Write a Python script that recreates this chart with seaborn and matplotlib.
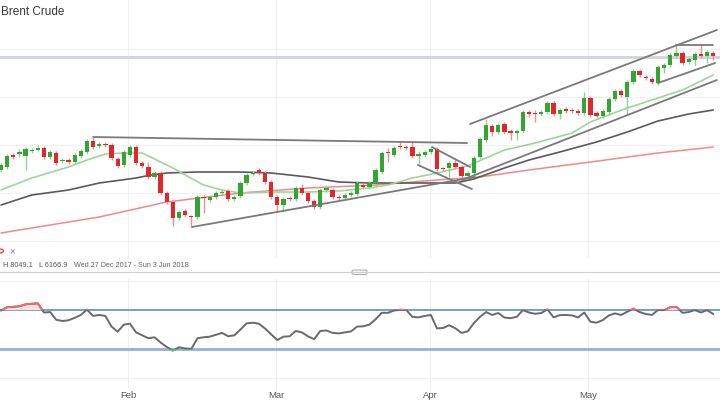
import numpy as np
import pandas as pd
import matplotlib
matplotlib.use("Agg")
import matplotlib.pyplot as plt
import seaborn as sns
from matplotlib.patches import Rectangle, FancyBboxPatch

sns.set_theme(style="white")
plt.rcParams['font.family'] = ['Liberation Sans', 'DejaVu Sans']

# ---------------- data ----------------
opens = [68.0, 68.3, 69.5, 69.6, 69.4, 69.9, 70.0, 70.2, 69.3, 69.7,
         68.9, 69.0, 68.8, 69.4, 69.8, 70.9, 70.4, 70.6, 70.5, 69.1,
         68.5, 69.5, 70.3, 68.7, 68.3, 67.3, 67.7, 65.7, 64.8, 63.2,
         63.9, 63.4, 63.3, 65.3, 65.0, 65.3, 65.7, 65.9, 65.1, 65.4,
         66.7, 67.6, 68.0, 67.7, 66.8, 65.3, 64.5, 65.2, 65.1, 66.2,
         65.7, 64.9, 64.3, 66.0, 66.0, 65.3, 65.2, 65.5, 65.6, 66.5,
         66.3, 66.6, 67.8, 69.8, 69.5, 70.4, 70.3, 70.3, 69.45, 69.5,
         69.8, 70.1, 68.2, 68.2, 68.7, 68.3, 67.4, 67.7, 69.3, 71.0,
         72.4, 71.8, 72.6, 71.9, 71.7, 71.9, 73.8, 73.7, 73.6, 73.8,
         74.7, 73.6, 74.1, 74.0, 73.9, 73.7, 75.2, 73.7, 73.4, 73.8,
         75.1, 75.9, 75.3, 76.8, 77.9, 77.3, 77.1, 76.7, 78.2, 78.5,
         79.4, 79.7, 78.8, 79.0, 79.6, 79.4, 79.7]
highs = [68.7, 69.6, 69.7, 70.1, 70.3, 70.2, 70.5, 70.4, 70.0, 69.9,
         69.2, 69.2, 69.7, 70.1, 71.1, 71.3, 70.8, 70.8, 70.7, 69.3,
         70.0, 70.5, 70.5, 68.9, 68.8, 67.9, 67.9, 65.9, 65.0, 64.0,
         64.1, 63.5, 65.5, 65.5, 65.5, 65.9, 66.0, 66.1, 65.5, 66.9,
         67.7, 67.9, 68.2, 67.9, 67.0, 65.5, 65.3, 65.4, 66.4, 66.6,
         65.9, 65.1, 66.2, 66.4, 66.2, 65.5, 65.7, 65.9, 66.9, 66.7,
         66.9, 68.2, 69.9, 70.2, 70.4, 70.8, 70.5, 70.8, 69.9, 70.0,
         70.3, 70.3, 68.3, 68.9, 69.2, 68.5, 67.9, 69.4, 71.3, 73.1,
         72.6, 72.7, 72.8, 72.1, 72.1, 74.0, 74.0, 74.0, 74.0, 74.9,
         74.9, 74.2, 74.3, 74.2, 74.1, 75.8, 75.4, 73.9, 74.1, 75.3,
         76.1, 76.1, 77.0, 78.1, 78.1, 77.5, 77.3, 78.5, 78.7, 79.7,
         80.5, 79.9, 79.3, 79.8, 80.5, 80.0, 79.9]
lows = [67.8, 68.1, 69.1, 69.3, 68.0, 69.7, 69.9, 69.1, 69.1, 68.5,
        68.7, 68.6, 68.6, 69.2, 69.6, 70.1, 70.2, 70.3, 69.0, 68.2,
        68.3, 69.3, 68.5, 68.2, 67.1, 67.1, 65.5, 64.6, 62.4, 63.0,
        63.3, 62.4, 63.1, 63.7, 64.8, 65.1, 65.5, 64.9, 64.9, 65.2,
        66.5, 67.4, 67.5, 66.6, 65.1, 63.8, 63.8, 64.9, 64.9, 65.5,
        64.7, 64.1, 64.1, 65.8, 65.1, 65.0, 65.0, 65.3, 65.4, 66.1,
        66.1, 66.4, 67.6, 68.8, 69.3, 70.1, 70.0, 69.2, 68.6, 69.3,
        69.6, 67.9, 67.9, 67.3, 68.1, 67.2, 67.2, 67.5, 69.1, 70.8,
        71.4, 71.6, 71.6, 71.0, 71.0, 71.7, 73.3, 72.8, 73.4, 73.6,
        73.4, 73.1, 73.7, 73.7, 73.5, 73.5, 73.3, 73.2, 73.2, 73.6,
        74.9, 75.3, 73.5, 76.6, 77.3, 77.0, 76.6, 76.5, 77.7, 78.3,
        79.2, 78.5, 78.6, 78.5, 79.2, 78.7, 79.0]
closes = [68.5, 69.4, 69.3, 69.8, 70.1, 70.0, 70.2, 69.3, 69.8, 68.7,
          69.0, 68.8, 69.5, 69.9, 70.9, 70.3, 70.6, 70.5, 69.2, 68.4,
          69.8, 70.3, 68.7, 68.4, 67.3, 67.7, 65.7, 64.8, 63.2, 63.8,
          63.5, 63.3, 65.3, 65.2, 65.3, 65.7, 65.8, 65.1, 65.3, 66.7,
          67.5, 67.7, 67.7, 66.8, 65.3, 64.5, 65.1, 65.1, 66.2, 65.7,
          64.9, 64.3, 66.0, 66.2, 65.3, 65.2, 65.5, 65.7, 66.7, 66.3,
          66.7, 68.0, 69.7, 69.7, 70.2, 70.3, 70.2, 69.4, 69.5, 69.8,
          70.1, 68.1, 68.1, 68.7, 68.3, 67.4, 67.7, 69.2, 71.1, 72.5,
          71.8, 72.5, 71.8, 71.7, 71.9, 73.8, 73.6, 73.6, 73.8, 74.7,
          73.6, 74.0, 73.9, 73.9, 73.7, 75.2, 73.5, 73.4, 73.9, 75.1,
          75.9, 75.5, 76.8, 77.9, 77.5, 77.2, 76.8, 78.3, 78.5, 79.5,
          79.7, 78.7, 79.1, 79.6, 79.4, 79.8, 79.4]

rsi = [69.5, 73.0, 73.4, 74.0, 76.0, 76.5, 77.0, 67.5, 68.0, 60.0,
       58.8, 59.5, 62.0, 65.0, 70.5, 64.0, 65.0, 64.0, 53.0, 47.7,
       55.0, 56.0, 47.0, 44.0, 41.0, 42.0, 36.5, 32.0, 28.3, 31.7,
       30.5, 30.0, 41.0, 42.0, 42.6, 44.5, 46.5, 43.0, 44.0, 50.0,
       56.3, 57.0, 56.0, 51.0, 45.0, 39.2, 42.6, 43.0, 48.5, 47.0,
       43.0, 40.0, 48.5, 49.0, 46.5, 46.0, 47.0, 48.0, 53.0, 53.3,
       55.0, 60.5, 67.2, 67.2, 69.5, 70.3, 70.2, 63.0, 62.5, 64.0,
       65.0, 51.2, 51.5, 54.4, 51.2, 46.5, 48.0, 56.5, 63.0, 68.0,
       65.0, 67.0, 62.3, 61.7, 63.1, 70.0, 67.5, 66.2, 67.0, 70.7,
       62.5, 64.8, 65.0, 64.5, 62.5, 67.5, 58.0, 57.0, 59.7, 64.5,
       66.6, 65.0, 68.3, 71.5, 68.0, 66.0, 65.0, 70.0, 70.0, 73.0,
       73.4, 67.2, 68.0, 70.0, 67.5, 70.0, 65.9]

ma_fast_idx = [0, 5, 11, 14, 17, 20, 23, 25, 28, 30, 33, 36, 39, 44, 50, 55,
               60, 63, 67, 71, 76, 82, 87, 93, 96, 99, 102, 107, 111, 116]
ma_fast = [66.0, 67.2, 68.3, 69.0, 69.6, 69.7, 69.7, 69.1, 68.2, 67.5, 66.5,
           66.0, 65.7, 65.8, 65.8, 65.9, 66.2, 66.5, 67.2, 67.7, 68.4, 70.0,
           70.7, 71.7, 72.8, 73.5, 74.2, 75.2, 76.0, 77.5]
ma_mid_idx = [0, 5, 11, 16, 22, 24, 27, 32, 39, 44, 50, 55, 60, 69, 74, 77,
              82, 86, 91, 97, 102, 107, 112, 116]
ma_mid = [64.5, 65.5, 66.0, 66.7, 67.2, 67.45, 67.7, 67.8, 67.8, 67.7, 67.3,
          66.8, 66.7, 66.7, 66.7, 67.1, 68.2, 69.0, 69.8, 70.8, 71.8, 72.9,
          73.6, 74.0]
ma_slow_idx = [0, 16, 27, 39, 50, 61, 71, 78, 86, 96, 107, 116]
ma_slow = [61.7, 63.3, 64.8, 65.7, 66.2, 66.5, 67.0, 67.3, 68.0, 68.8, 69.7, 70.3]

# drawn trend lines: (start index, start price, end index, end price)
trend_x0 = [15.0, 31.1, 70.2, 67.9, 75.1, 76.4, 110.0, 107.0]
trend_y0 = [71.3, 62.3, 70.3, 68.5, 67.0, 72.6, 80.5, 76.7]
trend_x1 = [75.9, 77.2, 76.4, 76.7, 116.6, 116.6, 116.0, 116.3]
trend_y1 = [70.7, 67.3, 68.3, 66.1, 77.0, 82.0, 80.5, 78.7]

level_price = 79.3
month_pos = [20.7, 44.8, 69.9, 95.6]
month_labels = ["Feb", "Mar", "Apr", "May"]
title = "Brent Crude"
info_high = "H 8049.1"
info_low = "L 6166.9"
info_range = "Wed 27 Dec 2017 - Sun 3 Jun 2018"

# ---------------- figure ----------------
W, H = 720, 400
fig = plt.figure(figsize=(W / 100, H / 100), dpi=100)
fig.patch.set_facecolor("white")

XL = (-0.163, 117.1)

def frac_rect(x0, y0, x1, y1):
    return [x0 / W, 1 - y1 / H, (x1 - x0) / W, (y1 - y0) / H]

ax = fig.add_axes(frac_rect(0, 0, 720, 258))
ax.set_xlim(*XL)
ax.set_ylim(85 - 25.8, 85)
for s in ax.spines.values():
    s.set_visible(False)
ax.set_xticks([]); ax.set_yticks([])

# gridlines
for g in [80.1, 75.3, 70.5, 65.7, 60.9]:
    ax.axhline(g, color="#f1f1f1", lw=0.8, zorder=0)
for m in month_pos:
    ax.axvline(m, color="#f1f1f1", lw=0.8, zorder=0)
ax.axhline(level_price, color="#cfd4da", lw=2.0, zorder=0.5)

GREEN = "#33a532"
RED = "#e3262b"
GWICK = "#8fd08c"
RWICK = "#f19090"

df = pd.DataFrame({"o": opens, "h": highs, "l": lows, "c": closes})
df["i"] = np.arange(len(df))
up = df["c"] >= df["o"]
for i, r in df.iterrows():
    isup = r["c"] >= r["o"]
    ax.vlines(r["i"], r["l"], r["h"], color=GWICK if isup else RWICK, lw=1.0, zorder=2)
bot = np.minimum(df["o"], df["c"])
hgt = np.maximum(np.abs(df["c"] - df["o"]), 0.12)
ax.bar(df["i"][up], hgt[up], bottom=bot[up], width=0.7, color=GREEN, lw=0, zorder=3)
ax.bar(df["i"][~up], hgt[~up], bottom=bot[~up], width=0.7, color=RED, lw=0, zorder=3)

sns.lineplot(x=ma_slow_idx, y=ma_slow, ax=ax, color="#f08a8a", lw=1.1, zorder=1.5)
sns.lineplot(x=ma_mid_idx, y=ma_mid, ax=ax, color="#5a5a5a", lw=1.2, zorder=1.5)
sns.lineplot(x=ma_fast_idx, y=ma_fast, ax=ax, color="#9fd59c", lw=1.2, zorder=1.5)

for x0, y0, x1, y1 in zip(trend_x0, trend_y0, trend_x1, trend_y1):
    ax.plot([x0, x1], [y0, y1], color="#7a7a7a", lw=1.3, zorder=4)

ax.set_xlabel(""); ax.set_ylabel("")

fig.text(1 / W, 1 - 12 / H, title, fontsize=8.5, color="#3a3a3a", va="center", ha="left")

# info row
fig.text(3 / W, 1 - 265.5 / H, info_high, fontsize=5.2, color="#555555", va="center")
fig.text(39 / W, 1 - 265.5 / H, info_low, fontsize=5.2, color="#555555", va="center")
fig.text(74 / W, 1 - 265.5 / H, info_range, fontsize=5.2, color="#666666", va="center")
fig.text(12 / W, 1 - 251 / H, "\u00d7", fontsize=7, color="#888888", va="center", ha="center")
fig.patches.append(matplotlib.patches.Circle((0 / W, 1 - 251 / H), 3.5 / W,
                   transform=fig.transFigure, fill=False, ec="#e05050", lw=1.0))

# divider with handle
fig.add_artist(matplotlib.lines.Line2D([0, 1], [1 - 272 / H, 1 - 272 / H],
               color="#d0d0d0", lw=0.8))
fig.add_artist(FancyBboxPatch((352 / W, 1 - 274.5 / H), 15 / W, 4.5 / H,
               boxstyle="round,pad=0.0,rounding_size=0.003",
               transform=fig.transFigure, fc="#f4f4f4", ec="#aaaaaa", lw=0.7))

# ---------------- RSI panel ----------------
axr = fig.add_axes(frac_rect(0, 281, 720, 378))
axr.set_xlim(*XL)
axr.set_ylim(0, 100)
for s in axr.spines.values():
    s.set_visible(False)
axr.set_yticks([])
for m in month_pos:
    axr.axvline(m, color="#efefef", lw=0.8, zorder=0, ymin=-0.1, ymax=1.02, clip_on=False)
axr.axhline(100, color="#efefef", lw=0.8, zorder=0, clip_on=False)
axr.axhline(0, color="#efefef", lw=0.8, zorder=0, clip_on=False)
axr.axhline(70, color="#5e8fc6", lw=1.2, zorder=1)
axr.axhline(30, color="#93b2d6", lw=2.0, zorder=1)

xi = np.arange(len(rsi))
ra = np.array(rsi)
axr.fill_between(xi, 70, ra, where=ra > 70, interpolate=True, color="#fbdede", lw=0, zorder=1.2)
sns.lineplot(x=xi, y=ra, ax=axr, color="#6a6a6a", lw=1.4, zorder=2)
lr, = axr.plot(xi, ra, color="#f26a6a", lw=1.3, zorder=3)
lr.set_clip_path(Rectangle((-5, 70), 200, 60, transform=axr.transData))
lg, = axr.plot(xi, ra, color="#5cbf5c", lw=1.3, zorder=3)
lg.set_clip_path(Rectangle((-5, -10), 200, 40, transform=axr.transData))

axr.set_xticks(month_pos)
axr.set_xticklabels(month_labels)
axr.tick_params(axis="x", length=0, pad=9, labelsize=6.8, labelcolor="#555555")
axr.set_xlabel(""); axr.set_ylabel("")

fig.savefig("out.png", dpi=100, facecolor="white")
